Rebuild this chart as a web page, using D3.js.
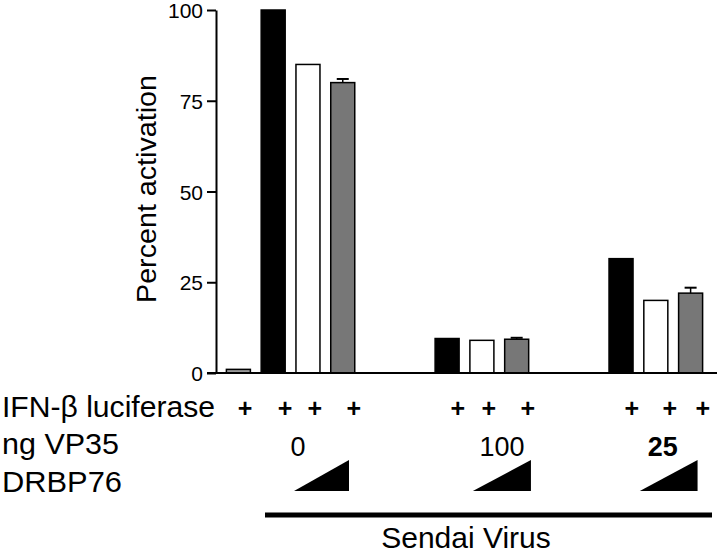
<!DOCTYPE html>
<html>
  <head>
    <meta charset="utf-8" />
    <title>IFN-beta activation</title>
    <style>
      body { margin: 0; background: #fff; }
      text { font-family: Arial, "Liberation Sans", sans-serif; fill: #000; }
    </style>
    <script src="https://d3js.org/d3.v7.min.js"></script>
  </head>
  <body>
    <script>
      // slot index of each bar (gaps between the groups are empty slots)
      var slots = [0, 1, 2, 3, 6, 7, 8, 11, 12, 13];
      var values = [1, 100, 85, 80, 9.5, 9, 9.3, 31.5, 20, 22];
      var errors = [0, 0, 0, 1, 0, 0, 0.4, 0, 0, 1.5];
      var fills = ["#9a9a9a", "#000", "#fff", "#777", "#000", "#fff", "#777", "#000", "#fff", "#777"];
      var yTicks = [0, 25, 50, 75, 100];

      // annotation rows below the axis (positions in slot units)
      var rowLabels = ["IFN-\u03b2 luciferase", "ng VP35", "DRBP76"];
      var plusSlots = [0.19, 1.34, 2.2, 3.32, 6.31, 7.2, 8.32, 11.31, 12.4, 13.35];
      var vp35Labels = ["0", "100", "25"];
      var vp35Slots = [1.71, 7.58, 12.2];
      var rampSlots = [[1.6, 3.18], [6.74, 8.41], [11.54, 13.2]];

      var svg = d3.select("body").append("svg")
          .attr("width", 720)
          .attr("height", 558);

      var x = d3.scaleBand()
          .domain(d3.range(14))
          .range([221, 708])
          .paddingInner(0.31)
          .paddingOuter(0.155);

      // slot -> centre pixel, for the annotations
      var xc = d3.scaleLinear()
          .domain([0, 1])
          .range([x(0) + x.bandwidth() / 2, x(1) + x.bandwidth() / 2]);

      var y = d3.scaleLinear()
          .domain([0, 100])
          .range([373, 10]);

      // bars
      svg.selectAll("rect.bar")
          .data(values)
          .enter()
          .append("rect")
          .attr("class", "bar")
          .attr("x", function(d, i){ return x(slots[i]); })
          .attr("y", function(d){ return y(d); })
          .attr("width", x.bandwidth())
          .attr("height", function(d){ return y(0) - y(d); })
          .attr("fill", function(d, i){ return fills[i]; })
          .attr("stroke", "#000")
          .attr("stroke-width", 1.5);

      // error bars (upper half only)
      var eb = svg.selectAll("g.err")
          .data(values.map(function(v, i){ return {v: v, e: errors[i], s: slots[i]}; })
                .filter(function(d){ return d.e > 0; }))
          .enter()
          .append("g")
          .attr("class", "err");
      eb.append("line")
          .attr("x1", function(d){ return xc(d.s); })
          .attr("x2", function(d){ return xc(d.s); })
          .attr("y1", function(d){ return y(d.v); })
          .attr("y2", function(d){ return y(d.v + d.e); })
          .attr("stroke", "#000")
          .attr("stroke-width", 1.5);
      eb.append("line")
          .attr("x1", function(d){ return xc(d.s) - 6; })
          .attr("x2", function(d){ return xc(d.s) + 6; })
          .attr("y1", function(d){ return y(d.v + d.e); })
          .attr("y2", function(d){ return y(d.v + d.e); })
          .attr("stroke", "#000")
          .attr("stroke-width", 2);

      // y axis
      var yAxis = svg.append("g")
          .attr("transform", "translate(216,0)")
          .call(d3.axisLeft(y).tickValues(yTicks).tickSize(9).tickPadding(4).tickSizeOuter(0));
      yAxis.select(".domain").attr("stroke-width", 2);
      yAxis.selectAll(".tick line").attr("stroke-width", 2);
      yAxis.selectAll(".tick text")
          .attr("font-size", 21)
          .attr("dy", "0.36em")
          .attr("font-family", "Arial, 'Liberation Sans', sans-serif");

      // baseline
      svg.append("line")
          .attr("x1", 207).attr("x2", 717)
          .attr("y1", y(0)).attr("y2", y(0))
          .attr("stroke", "#000")
          .attr("stroke-width", 2);

      svg.append("text")
          .attr("transform", "translate(156,189) rotate(-90)")
          .attr("text-anchor", "middle")
          .attr("font-size", 27)
          .attr("textLength", 228)
          .attr("lengthAdjust", "spacingAndGlyphs")
          .text("Percent activation");

      // row labels
      var rowY = [417, 454, 492];
      var rowW = [213, 117, 120];
      svg.selectAll("text.row")
          .data(rowLabels)
          .enter()
          .append("text")
          .attr("class", "row")
          .attr("x", 2)
          .attr("y", function(d, i){ return rowY[i]; })
          .attr("font-size", 29)
          .attr("textLength", function(d, i){ return rowW[i]; })
          .attr("lengthAdjust", "spacingAndGlyphs")
          .text(function(d){ return d; });

      svg.selectAll("text.plus")
          .data(plusSlots)
          .enter()
          .append("text")
          .attr("class", "plus")
          .attr("x", function(d){ return xc(d); })
          .attr("y", 417)
          .attr("text-anchor", "middle")
          .attr("font-size", 25)
          .attr("font-weight", "bold")
          .text("+");

      svg.selectAll("text.vp")
          .data(vp35Labels)
          .enter()
          .append("text")
          .attr("class", "vp")
          .attr("x", function(d, i){ return xc(vp35Slots[i]); })
          .attr("y", 456)
          .attr("text-anchor", "middle")
          .attr("font-size", 28)
          .attr("font-weight", function(d, i){ return i == 2 ? "bold" : "normal"; })
          .attr("textLength", function(d){ return d.length * 15; })
          .attr("lengthAdjust", "spacingAndGlyphs")
          .text(function(d){ return d; });

      // DRBP76 ramps
      svg.selectAll("path.ramp")
          .data(rampSlots)
          .enter()
          .append("path")
          .attr("class", "ramp")
          .attr("d", function(d){
            var a = xc(d[0]), b = xc(d[1]);
            return "M" + a + ",491L" + b + ",491L" + b + ",460Z";
          })
          .attr("fill", "#000");

      // Sendai virus bar
      svg.append("line")
          .attr("x1", 265).attr("x2", 712)
          .attr("y1", 515).attr("y2", 515)
          .attr("stroke", "#000")
          .attr("stroke-width", 5);
      svg.append("text")
          .attr("x", 466)
          .attr("y", 548)
          .attr("text-anchor", "middle")
          .attr("font-size", 30)
          .text("Sendai Virus");
    </script>
  </body>
</html>
